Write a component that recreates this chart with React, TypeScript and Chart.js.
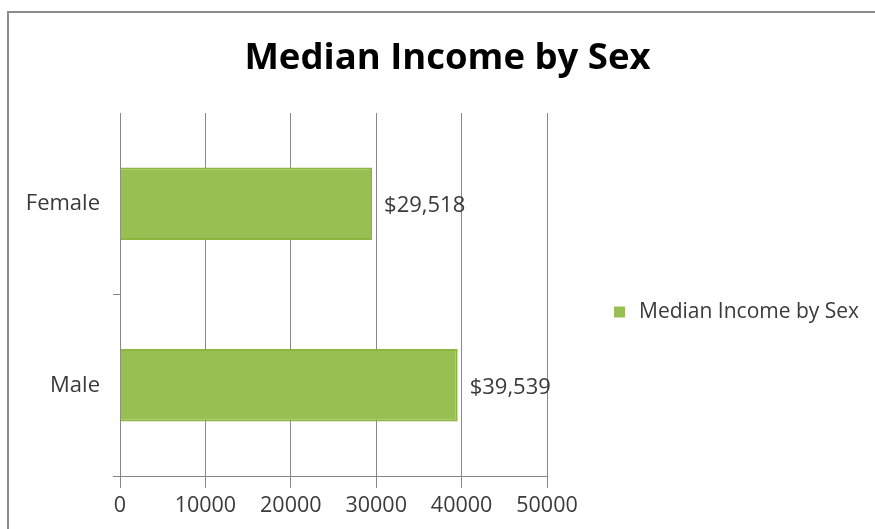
import React, { useEffect, useRef } from "react";
import { Chart, registerables } from "chart.js";

Chart.register(...registerables);

const categories = ["Female", "Male"];
const incomeValues = [29518, 39539];
const seriesName = "Median Income by Sex";
const chartTitle = "Median Income by Sex";
const xTickValues = [0, 10000, 20000, 30000, 40000, 50000];

const FONT = "'Open Sans', sans-serif";
const GREEN = "#98bf51";
const GREEN_EDGE = "#8db53f";
const GRID = "#878787";
const TEXT = "#3a3a3a";

const framePlugin = {
  id: "frame",
  beforeDraw(chart: any) {
    const ctx = chart.ctx;
    ctx.save();
    ctx.fillStyle = "#ffffff";
    ctx.fillRect(0, 0, chart.width, chart.height);
    ctx.strokeStyle = "#8c8c8c";
    ctx.lineWidth = 2;
    ctx.beginPath();
    ctx.moveTo(chart.width + 5, 12);
    ctx.lineTo(8, 12);
    ctx.lineTo(8, chart.height + 5);
    ctx.stroke();
    ctx.restore();
  },
};

const titlePlugin = {
  id: "customTitle",
  afterDraw(chart: any) {
    const ctx = chart.ctx;
    ctx.save();
    ctx.font = `bold 36.5px ${FONT}`;
    ctx.fillStyle = "#000";
    ctx.textAlign = "center";
    ctx.textBaseline = "middle";
    ctx.fillText(chartTitle, chart.width / 2 + 10, 59);
    ctx.restore();
  },
};

const dataLabelPlugin = {
  id: "dataLabels",
  afterDatasetsDraw(chart: any) {
    const ctx = chart.ctx;
    const meta = chart.getDatasetMeta(0);
    ctx.save();
    ctx.font = `22px ${FONT}`;
    ctx.fillStyle = TEXT;
    ctx.textBaseline = "middle";
    ctx.textAlign = "left";
    meta.data.forEach((el: any, i: number) => {
      const v = chart.data.datasets[0].data[i] as number;
      const txt = "$" + v.toLocaleString("en-US");
      ctx.fillText(txt, el.x + 12, el.y + 2);
    });
    ctx.restore();
  },
};

const legendPlugin = {
  id: "customLegend",
  afterDraw(chart: any) {
    const ctx = chart.ctx;
    const area = chart.chartArea;
    const ds = chart.data.datasets[0];
    const x = area.right + 67;
    const y = (area.top + area.bottom) / 2 + 18;
    ctx.save();
    ctx.fillStyle = ds.backgroundColor;
    ctx.fillRect(x, y - 6, 11, 11);
    ctx.font = `21px ${FONT}`;
    ctx.fillStyle = TEXT;
    ctx.textBaseline = "middle";
    ctx.textAlign = "left";
    ctx.fillText(ds.label, x + 25, y);
    ctx.restore();
  },
};

export default function App() {
  const ref = useRef<HTMLCanvasElement | null>(null);

  useEffect(() => {
    if (!ref.current) return;
    const chart = new Chart(ref.current, {
      type: "bar",
      data: {
        labels: categories,
        datasets: [
          {
            label: seriesName,
            data: incomeValues,
            backgroundColor: GREEN,
            borderColor: GREEN_EDGE,
            borderWidth: 2,
            categoryPercentage: 0.8,
            barPercentage: 0.5,
          },
        ],
      },
      options: {
        indexAxis: "y",
        responsive: false,
        animation: false,
        layout: { padding: { top: 113, left: 0, right: 328, bottom: 0 } },
        plugins: {
          legend: { display: false },
          tooltip: { enabled: false },
          title: { display: false },
        },
        scales: {
          x: {
            type: "linear",
            min: xTickValues[0],
            max: xTickValues[xTickValues.length - 1],
            afterBuildTicks(scale: any) {
              scale.ticks = xTickValues.map((v) => ({ value: v }));
            },
            afterFit(scale: any) {
              scale.height = 53;
            },
            grid: {
              color: GRID,
              lineWidth: 1,
              tickLength: 12,
              drawTicks: true,
            },
            border: { display: true, color: GRID, width: 1 },
            ticks: {
              color: TEXT,
              padding: 5,
              font: { family: FONT, size: 21.5 },
              callback: (v: any) => String(v),
            },
          },
          y: {
            afterFit(scale: any) {
              scale.width = 120;
            },
            grid: {
              offset: true,
              drawOnChartArea: false,
              drawTicks: true,
              tickLength: 7,
              color: GRID,
              tickColor: (c: any) => (c.index === 0 ? "rgba(0,0,0,0)" : GRID),
            },
            border: { display: true, color: GRID, width: 1 },
            ticks: {
              color: TEXT,
              padding: 13,
              font: { family: FONT, size: 22 },
            },
          },
        },
      },
      plugins: [framePlugin, dataLabelPlugin, legendPlugin, titlePlugin],
    } as any);
    return () => chart.destroy();
  }, []);

  return (
    <div
      style={{
        position: "fixed",
        left: 0,
        top: 0,
        width: 875,
        height: 529,
        background: "#fff",
        overflow: "hidden",
      }}
    >
      <canvas
        ref={ref}
        width={875}
        height={529}
        style={{ position: "absolute", left: 0, top: 0, width: 875, height: 529 }}
      />
    </div>
  );
}
